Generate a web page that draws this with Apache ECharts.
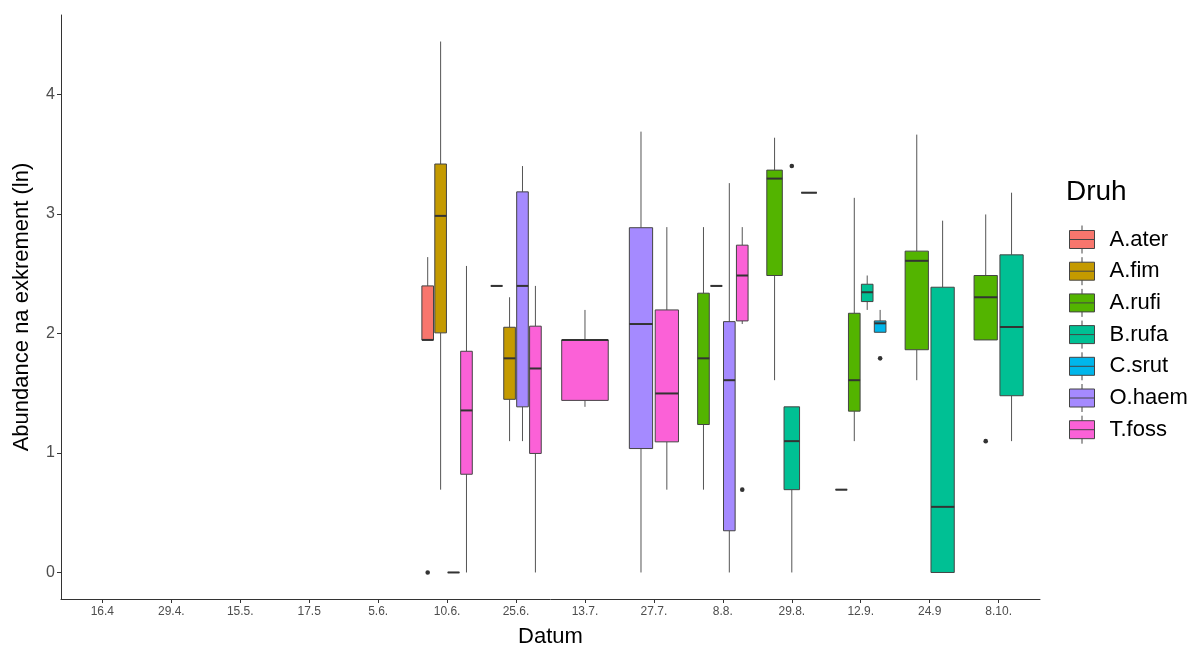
<!DOCTYPE html>
<html><head><meta charset="utf-8">
<script src="https://cdn.jsdelivr.net/npm/echarts@6/dist/echarts.min.js"></script>
<style>html,body{margin:0;padding:0;background:#fff}#c{width:1203px;height:648px}</style>
</head><body><div id="c"></div>
<script>
// Categories (dates) and tick values
const dates = ['16.4', '29.4.', '15.5.', '17.5', '5.6.', '10.6.', '25.6.', '13.7.', '27.7.', '8.8.', '29.8.', '12.9.', '24.9', '8.10.'];
const yTicks = [0, 1, 2, 3, 4];
const speciesNames = ['A.ater', 'A.fim', 'A.rufi', 'B.rufa', 'C.srut', 'O.haem', 'T.foss'];
const speciesColors = ['#F8766D', '#C49A00', '#53B400', '#00C094', '#00B6EB', '#A58AFF', '#FB61D7'];

// Box statistics: [date, lowerWhisker, q1, median, q3, upperWhisker]
const aAter = [
  ['10.6.', 1.946, 1.946, 1.946, 2.398, 2.639],
  ['25.6.', 2.398, 2.398, 2.398, 2.398, 2.398],
  ['12.9.', 0.693, 0.693, 0.693, 0.693, 0.693]
];
const aFim = [
  ['10.6.', 0.693, 2.005, 2.984, 3.418, 4.443],
  ['25.6.', 1.099, 1.449, 1.792, 2.052, 2.303]
];
const aRufi = [
  ['8.8.', 0.693, 1.238, 1.792, 2.337, 2.890],
  ['29.8.', 1.609, 2.485, 3.296, 3.367, 3.638],
  ['12.9.', 1.099, 1.350, 1.609, 2.169, 3.135],
  ['24.9', 1.609, 1.864, 2.608, 2.689, 3.664],
  ['8.10.', 1.946, 1.946, 2.303, 2.485, 2.996]
];
const bRufa = [
  ['8.8.', 2.398, 2.398, 2.398, 2.398, 2.398],
  ['29.8.', 0, 0.693, 1.099, 1.386, 1.386],
  ['12.9.', 2.197, 2.267, 2.345, 2.412, 2.485],
  ['24.9', 0, 0, 0.549, 2.387, 2.944],
  ['8.10.', 1.099, 1.479, 2.054, 2.658, 3.178]
];
const cSrut = [
  ['29.8.', 3.178, 3.178, 3.178, 3.178, 3.178],
  ['12.9.', 2.010, 2.010, 2.085, 2.105, 2.197]
];
const oHaem = [
  ['10.6.', 0, 0, 0, 0, 0],
  ['25.6.', 1.099, 1.386, 2.398, 3.185, 3.401],
  ['27.7.', 0, 1.037, 2.079, 2.885, 3.689],
  ['8.8.', 0, 0.349, 1.609, 2.099, 3.258]
];
const tFoss = [
  ['10.6.', 0, 0.822, 1.356, 1.851, 2.565],
  ['25.6.', 0, 0.996, 1.707, 2.061, 2.398],
  ['13.7.', 1.386, 1.440, 1.946, 1.946, 2.197],
  ['27.7.', 0.693, 1.093, 1.498, 2.197, 2.890],
  ['8.8.', 2.079, 2.105, 2.485, 2.739, 2.890]
];

// Outliers: [date, value]
const aAterOut = [['10.6.', 0]];
const aFimOut = [];
const aRufiOut = [['8.10.', 1.099]];
const bRufaOut = [['29.8.', 3.401]];
const cSrutOut = [['12.9.', 1.792]];
const oHaemOut = [];
const tFossOut = [['8.8.', 0.693]];

const boxes = [aAter, aFim, aRufi, bRufa, cSrut, oHaem, tFoss];
const outs = [aAterOut, aFimOut, aRufiOut, bRufaOut, cSrutOut, oHaemOut, tFossOut];

// which species are present at each date (for dodging)
const present = dates.map(d => speciesNames.map((s, i) => i).filter(i => boxes[i].some(r => r[0] === d)));

const legendIcon = 'path://M0,5 L25,5 L25,23 L0,23 Z M0,14 L25,14 M12.5,0 L12.5,5 M12.5,23 L12.5,28';

const series = speciesNames.map((name, si) => ({
  type: 'custom',
  name: name,
  itemStyle: { color: speciesColors[si] },
  encode: { x: 0, y: [1, 2, 3, 4, 5] },
  data: boxes[si].map(r => [dates.indexOf(r[0]), r[1], r[2], r[3], r[4], r[5]]),
  renderItem: function (params, api) {
    const di = api.value(0);
    const list = present[di];
    const n = list.length;
    const k = list.indexOf(si);
    const unit = api.size([1, 0])[0];
    const total = 0.75 * unit;
    const slot = total / n;
    const c0 = api.coord([di, 0]);
    const cx = c0[0] - total / 2 + slot * (k + 0.5);
    const hw = slot * 0.9 / 2;
    const y = v => api.coord([di, v])[1];
    const lo = y(api.value(1)), q1 = y(api.value(2)), md = y(api.value(3)), q3 = y(api.value(4)), hi = y(api.value(5));
    const children = [
      { type: 'line', shape: { x1: cx, y1: q3, x2: cx, y2: hi }, style: { stroke: '#555', lineWidth: 1 } },
      { type: 'line', shape: { x1: cx, y1: q1, x2: cx, y2: lo }, style: { stroke: '#555', lineWidth: 1 } },
      { type: 'rect', shape: { x: cx - hw, y: q3, width: 2 * hw, height: q1 - q3 }, style: { fill: speciesColors[si], stroke: '#444', lineWidth: 1 } },
      { type: 'line', shape: { x1: cx - hw, y1: md, x2: cx + hw, y2: md }, style: { stroke: '#333', lineWidth: 2 } }
    ];
    outs[si].filter(o => o[0] === dates[di]).forEach(o => {
      children.push({ type: 'circle', shape: { cx: cx, cy: y(o[1]), r: 2.3 }, style: { fill: '#333' } });
    });
    return { type: 'group', children: children };
  }
}));

const chart = echarts.init(document.getElementById('c'));
chart.setOption({
  animation: false,
  backgroundColor: '#fff',
  title: {
    text: 'Druh', left: 1061, top: 173,
    textStyle: { fontSize: 28, fontWeight: 'normal', color: '#000', fontFamily: 'Liberation Sans, Arial, sans-serif' }
  },
  legend: {
    orient: 'vertical', left: 1064, top: 220,
    itemWidth: 25, itemHeight: 28, itemGap: 2.7,
    icon: legendIcon,
    selectedMode: false,
    data: speciesNames,
    itemStyle: { borderColor: '#444', borderWidth: 1 },
    textStyle: { fontSize: 22, color: '#000', fontFamily: 'Liberation Sans, Arial, sans-serif', padding: [0, 0, 0, 10] }
  },
  grid: { left: 61, right: 163, top: 15, bottom: 49, containLabel: false, outerBoundsMode: 'none' },
  xAxis: {
    type: 'value', min: -0.6, max: 13.6,
    name: 'Datum', nameLocation: 'middle', nameGap: 27,
    nameTextStyle: { fontSize: 22, color: '#000', fontFamily: 'Liberation Sans, Arial, sans-serif' },
    splitLine: { show: false },
    axisLine: { show: true, onZero: false, lineStyle: { color: '#333', width: 1 } },
    axisTick: { show: true, length: 4, lineStyle: { color: '#333' }, customValues: dates.map((d, i) => i) },
    axisLabel: {
      color: '#4d4d4d', fontSize: 12, margin: 7,
      fontFamily: 'Liberation Sans Narrow, Arial Narrow, Liberation Sans, sans-serif',
      customValues: dates.map((d, i) => i),
      formatter: v => dates[Math.round(v)]
    }
  },
  yAxis: {
    type: 'value', min: -0.222, max: 4.665,
    name: 'Abundance na exkrement (ln)', nameLocation: 'middle', nameGap: 28,
    nameTextStyle: { fontSize: 22, color: '#000', fontFamily: 'Liberation Sans, Arial, sans-serif' },
    splitLine: { show: false },
    axisLine: { show: true, onZero: false, lineStyle: { color: '#333', width: 1 } },
    axisTick: { show: true, length: 4, lineStyle: { color: '#333' }, customValues: yTicks },
    axisLabel: {
      color: '#4d4d4d', fontSize: 16, margin: 6,
      fontFamily: 'Liberation Sans, Arial, sans-serif',
      customValues: yTicks
    }
  },
  series: series
});
</script>
</body></html>
